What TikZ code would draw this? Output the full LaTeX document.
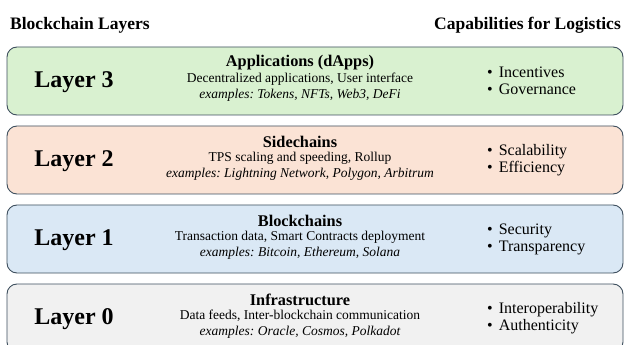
\documentclass[tikz,border=0pt]{standalone}
\usepackage{fontspec}
\setmainfont{Liberation Serif}
\frenchspacing
\definecolor{edgecol}{HTML}{3E4F5E}
\definecolor{fillthree}{HTML}{D9F1D0}
\definecolor{filltwo}{HTML}{FBE3D5}
\definecolor{fillone}{HTML}{DAE8F5}
\definecolor{fillzero}{HTML}{F1F1F1}
\tikzset{
  layerbox/.style={draw=edgecol, line width=0.9pt, rounded corners=10pt,
    minimum width=616pt, minimum height=68pt, inner sep=0pt},
  headtext/.style={font=\fontsize{17.5}{20}\selectfont\bfseries, inner sep=0pt},
  layerlabel/.style={font=\fontsize{24}{28}\selectfont\bfseries, inner sep=0pt},
  titletext/.style={font=\fontsize{16.3}{19}\selectfont\bfseries, inner sep=0pt},
  bodytext/.style={font=\fontsize{13.5}{16}\selectfont, inner sep=0pt},
  extext/.style={font=\fontsize{13.5}{16}\selectfont\itshape, inner sep=0pt},
  capitems/.style={font=\fontsize{16}{17}\selectfont, inner sep=0pt, align=left, anchor=west},
}
\newcommand{\capitem}[1]{\textbullet\hspace{6pt}#1}
\begin{document}
\begin{tikzpicture}[x=1pt,y=-1pt]
\clip (0,0) rectangle (625,345);
\fill[white] (0,0) rectangle (625,345);
\node[headtext, anchor=base west] (hl) at (10,30) {Blockchain Layers};
\node[headtext, anchor=base east] (hr) at (621,30) {Capabilities for Logistics};
% Layer 3
\node[layerbox, fill=fillthree] (b3) at (315,81) {};
\node[layerlabel] (n3) at (74,82) {Layer 3};
\node[titletext] (t3) at (300,63) {Applications (dApps)};
\node[bodytext] (d3) at (300,79) {Decentralized applications, User interface};
\node[extext] (e3) at (300,95) {examples: Tokens, NFTs, Web3, DeFi};
\node[capitems] (c3) at (487,81) {\capitem{Incentives}\\\capitem{Governance}};
% Layer 2
\node[layerbox, fill=filltwo] (b2) at (315,160) {};
\node[layerlabel] (n2) at (74,161) {Layer 2};
\node[titletext] (t2) at (300,142) {Sidechains};
\node[bodytext] (d2) at (300,158) {TPS scaling and speeding, Rollup};
\node[extext] (e2) at (300,174) {examples: Lightning Network, Polygon, Arbitrum};
\node[capitems] (c2) at (487,160) {\capitem{Scalability}\\\capitem{Efficiency}};
% Layer 1
\node[layerbox, fill=fillone] (b1) at (315,239) {};
\node[layerlabel] (n1) at (74,240) {Layer 1};
\node[titletext] (t1) at (300,221) {Blockchains};
\node[bodytext] (d1) at (300,237) {Transaction data, Smart Contracts deployment};
\node[extext] (e1) at (300,253) {examples: Bitcoin, Ethereum, Solana};
\node[capitems] (c1) at (487,239) {\capitem{Security}\\\capitem{Transparency}};
% Layer 0
\node[layerbox, fill=fillzero] (b0) at (315,318) {};
\node[layerlabel] (n0) at (74,319) {Layer 0};
\node[titletext] (t0) at (300,300) {Infrastructure};
\node[bodytext] (d0) at (300,316) {Data feeds, Inter-blockchain communication};
\node[extext] (e0) at (300,332) {examples: Oracle, Cosmos, Polkadot};
\node[capitems] (c0) at (487,318) {\capitem{Interoperability}\\\capitem{Authenticity}};
\end{tikzpicture}
\end{document}
